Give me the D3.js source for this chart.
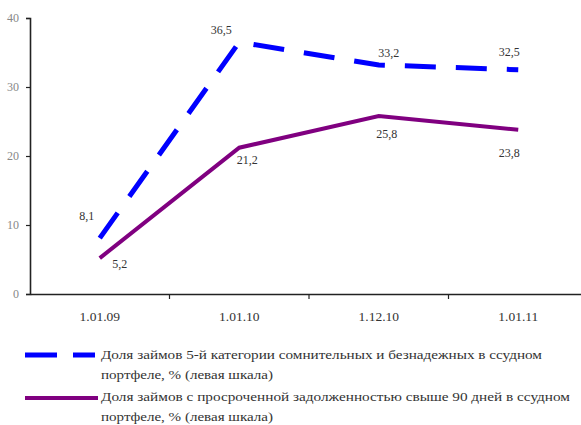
<!DOCTYPE html>
<html><head><meta charset="utf-8">
<script src="https://cdn.jsdelivr.net/npm/d3@7"></script>
<style>body{margin:0;background:#fff}svg{display:block}</style>
</head><body>
<svg id="c" width="581" height="425"></svg>
<script>
const categories = ["1.01.09", "1.01.10", "1.12.10", "1.01.11"];
const doubtfulShare = [8.1, 36.5, 33.2, 32.5];
const overdueShare = [5.2, 21.2, 25.8, 23.8];
const yTicks = [0, 10, 20, 30, 40];
const legendLines = [
  ["Доля займов 5-й категории сомнительных и безнадежных в ссудном", "портфеле, % (левая шкала)"],
  ["Доля займов с просроченной задолженностью свыше 90 дней в ссудном", "портфеле, % (левая шкала)"]
];
const fmt = v => String(v).replace(".", ",");

const svg = d3.select("#c");
const x = d3.scaleBand().domain(categories).range([30, 588]);
const y = d3.scaleLinear().domain([0, 40]).range([294, 18]);
const serif = "'Liberation Serif', 'DejaVu Serif', 'Times New Roman', serif";

// Y axis
const ya = svg.append("g").attr("transform", "translate(30,0)")
  .call(d3.axisLeft(y).tickValues(yTicks).tickSize(4).tickPadding(7));
ya.attr("font-family", null);
ya.select(".domain").attr("stroke", "#222").attr("stroke-width", 1.6);
ya.selectAll(".tick line").attr("stroke", "#222").attr("stroke-width", 1.2);
ya.selectAll(".tick text").style("font-family", serif).style("font-size", "12px").attr("fill", "#888");

// X axis
const xa = svg.append("g").attr("transform", "translate(0,294)")
  .call(d3.axisBottom(x).tickSize(0).tickPadding(17));
xa.attr("font-family", null);
xa.select(".domain").attr("stroke", "#222").attr("stroke-width", 1.6);
xa.selectAll(".tick text").style("font-family", serif).style("font-size", "13.5px").attr("fill", "#333");
// tick marks between categories
const bounds = categories.slice(1).map(c => x(c));
svg.append("g").selectAll("line").data(bounds).join("line")
  .attr("x1", d => d).attr("x2", d => d).attr("y1", 294).attr("y2", 299)
  .attr("stroke", "#222").attr("stroke-width", 1.2);

const cx = c => x(c) + x.bandwidth() / 2;
const line = d3.line().x((d, i) => cx(categories[i])).y(d => y(d));

svg.append("path").datum(overdueShare).attr("d", line)
  .attr("fill", "none").attr("stroke", "#800080").attr("stroke-width", 4);
svg.append("path").datum(doubtfulShare).attr("d", line)
  .attr("fill", "none").attr("stroke", "#0000FF").attr("stroke-width", 5)
  .attr("stroke-dasharray", "31,20");

// data labels
const blueOff = [[-13, -18], [-18, -8], [10, -8], [-9, -14]];
const purpleOff = [[20, 10], [8, 16], [8, 22], [-9, 27]];
svg.append("g").selectAll("text").data(doubtfulShare).join("text")
  .attr("x", (d, i) => cx(categories[i]) + blueOff[i][0])
  .attr("y", (d, i) => y(d) + blueOff[i][1])
  .attr("text-anchor", "middle").style("font-family", serif).style("font-size", "12px").attr("fill", "#333")
  .text(d => fmt(d));
svg.append("g").selectAll("text").data(overdueShare).join("text")
  .attr("x", (d, i) => cx(categories[i]) + purpleOff[i][0])
  .attr("y", (d, i) => y(d) + purpleOff[i][1])
  .attr("text-anchor", "middle").style("font-family", serif).style("font-size", "12px").attr("fill", "#333")
  .text(d => fmt(d));

// legend
const lg = svg.append("g");
lg.append("line").attr("x1", 25).attr("x2", 95).attr("y1", 355).attr("y2", 355)
  .attr("stroke", "#0000FF").attr("stroke-width", 5).attr("stroke-dasharray", "32,16");
lg.append("line").attr("x1", 25).attr("x2", 98).attr("y1", 398).attr("y2", 398)
  .attr("stroke", "#800080").attr("stroke-width", 4);
const lens = [[441, 172], [469, 172]];
legendLines.forEach((ls, k) => {
  ls.forEach((t, j) => {
    lg.append("text").attr("x", 101).attr("y", 359 + k * 42 + j * 20)
      .attr("textLength", lens[k][j]).attr("lengthAdjust", "spacingAndGlyphs")
      .style("font-family", serif).style("font-size", "12px").attr("fill", "#333").text(t);
  });
});
</script>
</body></html>
